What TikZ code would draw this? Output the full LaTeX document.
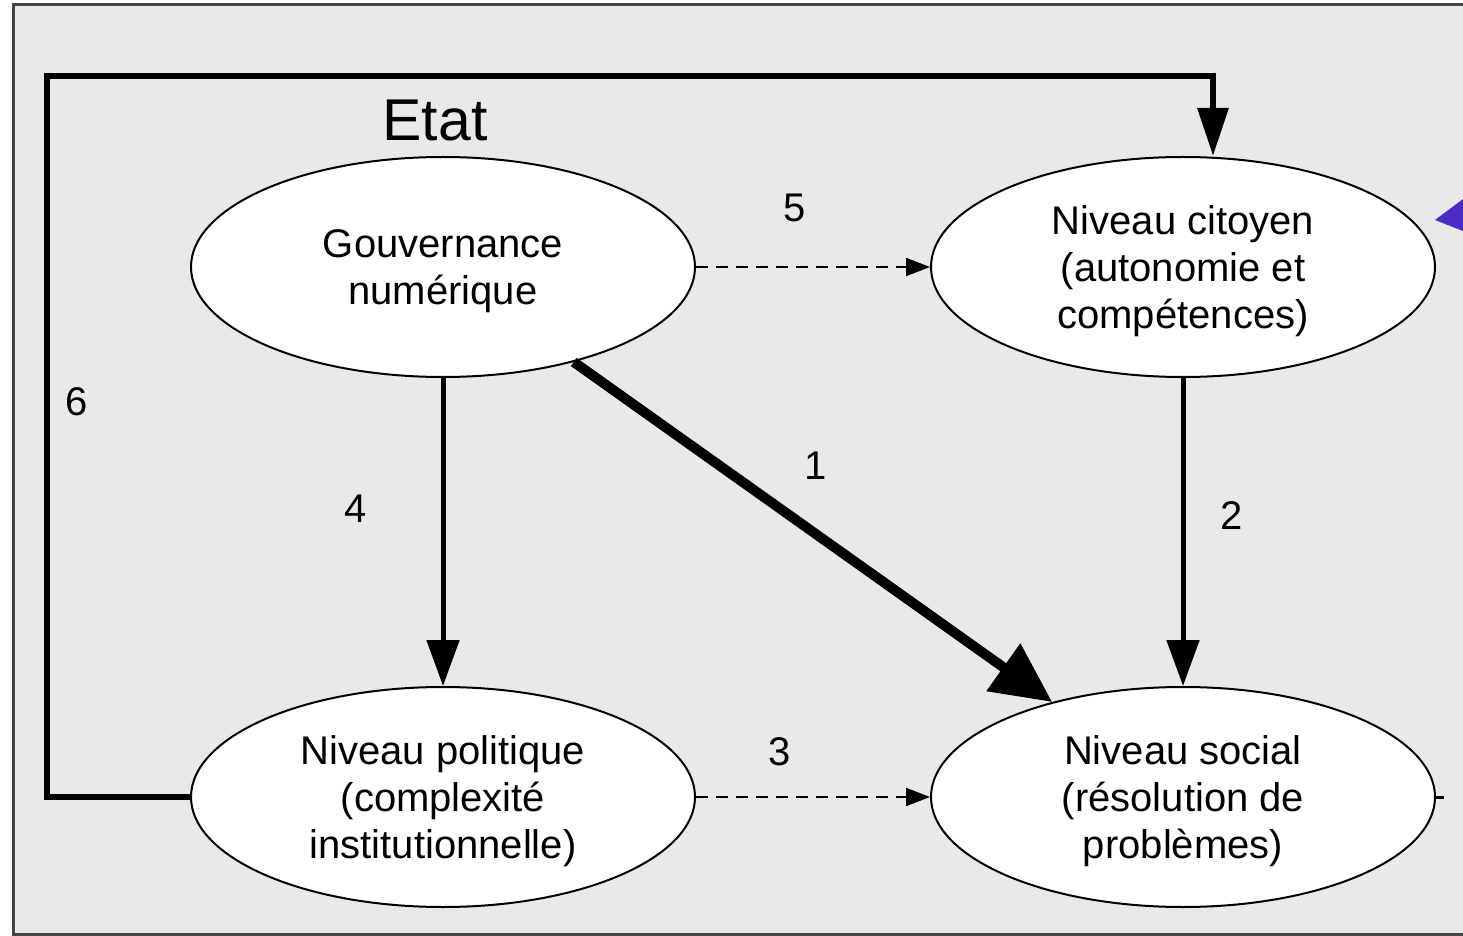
\documentclass[tikz,border=0pt]{standalone}
\usepackage{fontspec}
\setmainfont{Liberation Sans}
\usetikzlibrary{shapes.geometric,arrows.meta}
\definecolor{bggray}{HTML}{E8E9E9}
\definecolor{framegray}{HTML}{454545}
\definecolor{tripurple}{HTML}{4A2BC4}
\newcommand{\firstline}{\rule{0pt}{18.5pt}}
\tikzset{
  lvl/.style={ellipse,draw=black,line width=1pt,fill=white,minimum width=252pt,minimum height=110pt,inner sep=0pt,align=center,font=\fontsize{20}{23.5}\selectfont},
  num/.style={font=\fontsize{20}{24}\selectfont,inner sep=0pt},
  solidarrow/.style={line width=2.5pt,-{Triangle[length=23pt,width=16pt]}},
  bigarrow/.style={line width=5pt,-{Triangle[length=30pt,width=28pt]}},
  dasharrow/.style={line width=1pt,dash pattern=on 6pt off 4pt,-{Triangle[length=12pt,width=9pt]}},
  looparrow/.style={line width=3pt,line join=miter,-{Triangle[length=24pt,width=15pt]}}
}
\begin{document}
\begin{tikzpicture}[x=0.5pt,y=-0.5pt]
\useasboundingbox (0,0) rectangle (1463,936);
\fill[white] (0,0) rectangle (1463,936);
\fill[bggray] (13,5) rectangle (1463,934);
\draw[framegray,line width=1.5pt] (1463,5) -- (13,5) -- (13,934) -- (1463,934);
\fill[tripurple] (1435,220) -- (1463,199) -- (1463,231) -- cycle;

\node[lvl] (gov) at (443,267) {\firstline Gouvernance\\numérique};
\node[lvl] (cit) at (1183,267) {\firstline Niveau citoyen\\(autonomie et\\compétences)};
\node[lvl] (pol) at (443,797) {\firstline Niveau politique\\(complexité\\institutionnelle)};
\node[lvl] (soc) at (1183,797) {\firstline Niveau social\\(résolution de\\problèmes)};

\node[inner sep=0pt,font=\fontsize{29.5}{30}\selectfont] (etat) at (435,120) {Etat};

\coordinate (c6a) at (47,76);
\coordinate (c6b) at (1213,76);
\draw[looparrow] (pol.west) -| (c6a) -- (c6b) -- (cit.north -| c6b);
\node[num] (n6) at (77,402) {6};

\draw[dasharrow] (gov.east) -- (cit.west);
\node[num] (n5) at (795,208) {5};
\draw[dasharrow] (pol.east) -- (soc.west);
\node[num] (n3) at (780,752) {3};

\draw[solidarrow] (gov.south) -- (pol.north);
\node[num] (n4) at (356,509) {4};
\draw[solidarrow] (cit.south) -- (soc.north);
\node[num] (n2) at (1232,516) {2};

\draw[bigarrow] (gov.-36) -- (soc.144);
\node[num] (n1) at (816,466) {1};

\coordinate (tick) at (1444,797);
\draw[line width=1.5pt] (soc.east) -- (tick);
\end{tikzpicture}
\end{document}
